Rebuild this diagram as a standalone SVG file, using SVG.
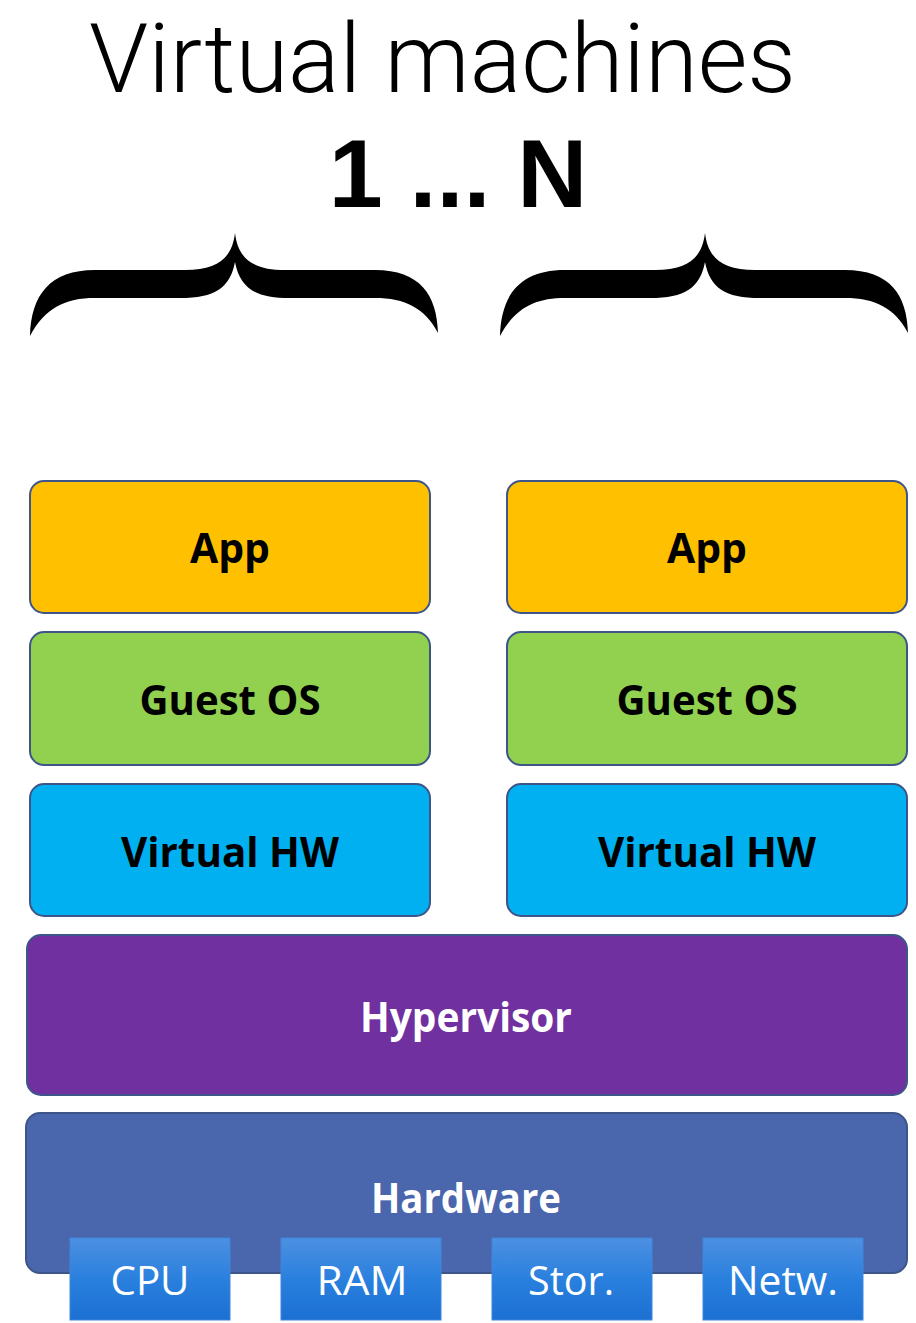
<svg xmlns="http://www.w3.org/2000/svg" xmlns:xlink="http://www.w3.org/1999/xlink" width="916" height="1323" viewBox="0 0 916 1323">
  <style>
    .layer { stroke: #3d5588; stroke-width: 2; }
    .lbl { font-family: "Open Sans", "Liberation Sans", sans-serif; font-weight: 700; font-size: 42px; text-anchor: middle; }
    .dark { fill: #000000; }
    .light { fill: #ffffff; }
    .part { font-family: "Open Sans", "Liberation Sans", sans-serif; font-weight: 400; font-size: 40px; fill: #ffffff; text-anchor: middle; }
    .chip { fill: url(#chipGrad); stroke: #3f86dc; stroke-width: 1; }
  </style>
  <defs>
    <linearGradient id="chipGrad" x1="0" y1="0" x2="0" y2="1">
      <stop offset="0" stop-color="#4d90e2"/>
      <stop offset="0.5" stop-color="#2a80de"/>
      <stop offset="1" stop-color="#1b70d2"/>
    </linearGradient>
    <!-- horizontal curly brace, spanning x 30..438 -->
    <path id="brace" d="M 30 336 C 31 295, 50 270, 95 270 L 185 270 C 218 270, 232 258, 235 233 C 238 258, 252 270, 285 270 L 375 270 C 420 270, 437 295, 438 333 C 425 308, 405 298, 375 298 L 290 298 C 255 298, 240 288, 235 262 C 230 288, 215 298, 180 298 L 95 298 C 65 298, 45 308, 30 336 Z" fill="#000000"/>
  </defs>

  <rect width="916" height="1323" fill="#ffffff"/>

  <!-- heading -->
  <g id="title">
    <text x="89" y="92" font-family="Roboto, 'Liberation Sans', sans-serif" font-weight="300" font-size="96" fill="#000" textLength="707" lengthAdjust="spacingAndGlyphs">Virtual machines</text>
    <text x="458" y="207" font-family="'Liberation Sans', Arial, sans-serif" font-weight="700" font-size="97" fill="#000" text-anchor="middle">1 ... N</text>
  </g>

  <!-- braces over each VM stack -->
  <g id="braces">
    <use xlink:href="#brace"/>
    <use xlink:href="#brace" transform="translate(470,0)"/>
  </g>

  <!-- VM 1 -->
  <g id="vm1-app">
    <rect class="layer" x="30" y="481" width="400" height="132" rx="14" fill="#ffc000"/>
    <text class="lbl dark" x="230" y="563" textLength="80" lengthAdjust="spacingAndGlyphs">App</text>
  </g>
  <g id="vm1-guestos">
    <rect class="layer" x="30" y="632" width="400" height="133" rx="14" fill="#92d050"/>
    <text class="lbl dark" x="230" y="715" textLength="181" lengthAdjust="spacingAndGlyphs">Guest OS</text>
  </g>
  <g id="vm1-virtualhw">
    <rect class="layer" x="30" y="784" width="400" height="132" rx="14" fill="#00b0f0"/>
    <text class="lbl dark" x="230" y="867" textLength="218" lengthAdjust="spacingAndGlyphs">Virtual HW</text>
  </g>

  <!-- VM N -->
  <g id="vmN-app">
    <rect class="layer" x="507" y="481" width="400" height="132" rx="14" fill="#ffc000"/>
    <text class="lbl dark" x="707" y="563" textLength="80" lengthAdjust="spacingAndGlyphs">App</text>
  </g>
  <g id="vmN-guestos">
    <rect class="layer" x="507" y="632" width="400" height="133" rx="14" fill="#92d050"/>
    <text class="lbl dark" x="707" y="715" textLength="181" lengthAdjust="spacingAndGlyphs">Guest OS</text>
  </g>
  <g id="vmN-virtualhw">
    <rect class="layer" x="507" y="784" width="400" height="132" rx="14" fill="#00b0f0"/>
    <text class="lbl dark" x="707" y="867" textLength="218" lengthAdjust="spacingAndGlyphs">Virtual HW</text>
  </g>

  <!-- shared layers -->
  <g id="hypervisor">
    <rect class="layer" x="27" y="935" width="880" height="160" rx="14" fill="#7030a0"/>
    <text class="lbl light" x="466" y="1032" textLength="212" lengthAdjust="spacingAndGlyphs">Hypervisor</text>
  </g>
  <g id="hardware">
    <rect class="layer" x="26" y="1113" width="881" height="160" rx="14" fill="#4a66ad"/>
    <text class="lbl light" x="466" y="1213" textLength="190" lengthAdjust="spacingAndGlyphs">Hardware</text>
  </g>

  <!-- hardware components -->
  <g id="cpu">
    <rect class="chip" x="70" y="1238" width="160" height="82"/>
    <text class="part" x="150" y="1295" textLength="79" lengthAdjust="spacingAndGlyphs">CPU</text>
  </g>
  <g id="ram">
    <rect class="chip" x="281" y="1238" width="160" height="82"/>
    <text class="part" x="362" y="1295" textLength="91" lengthAdjust="spacingAndGlyphs">RAM</text>
  </g>
  <g id="storage">
    <rect class="chip" x="492" y="1238" width="160" height="82"/>
    <text class="part" x="571" y="1295" textLength="86" lengthAdjust="spacingAndGlyphs">Stor.</text>
  </g>
  <g id="network">
    <rect class="chip" x="703" y="1238" width="160" height="82"/>
    <text class="part" x="783" y="1295" textLength="110" lengthAdjust="spacingAndGlyphs">Netw.</text>
  </g>

  <g id="connectors"/>
</svg>
